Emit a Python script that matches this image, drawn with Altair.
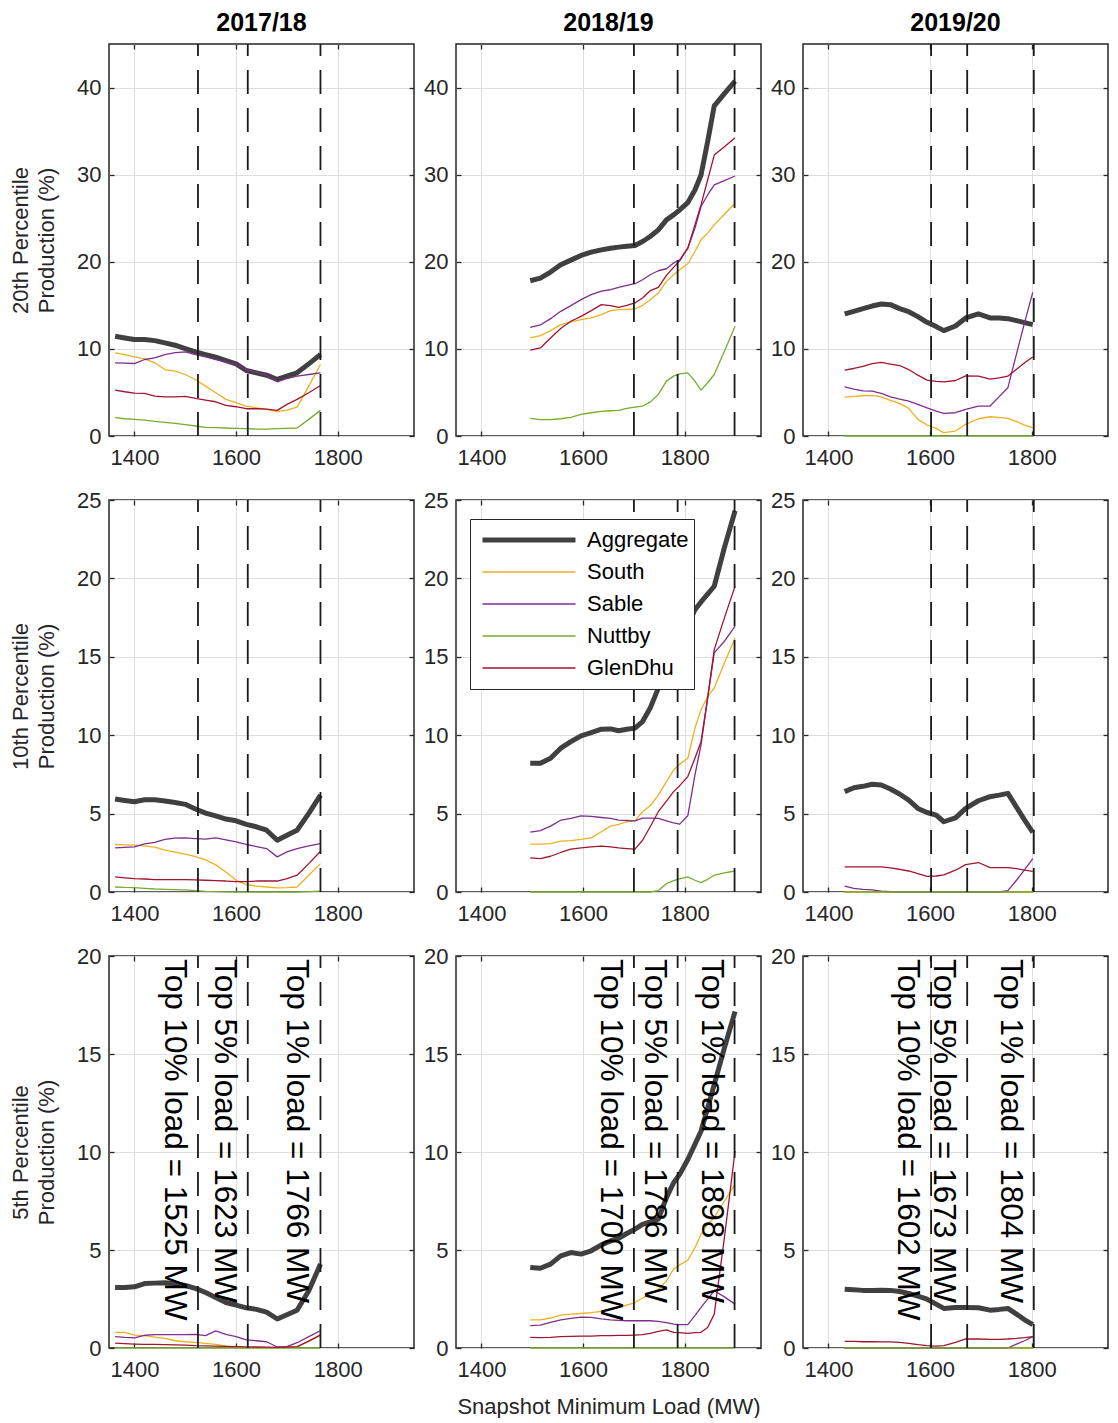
import altair as alt
import pandas as pd

FONT = "Liberation Sans"
DARK = "#262626"

YEARS = ["2017/18", "2018/19", "2019/20"]
PCTS = ["20th", "10th", "5th"]
SERIES = ["Aggregate", "South", "Sable", "Nuttby", "GlenDhu"]
COLORS = ["#404040", "#EDB120", "#7E2F8E", "#77AC30", "#A2142F"]
WIDTHS = [5, 1.3, 1.3, 1.3, 1.3]

Y_MAX = [45, 25, 20]
Y_TICKS = [[0, 10, 20, 30, 40], [0, 5, 10, 15, 20, 25], [0, 5, 10, 15, 20]]
X_TICKS = [1400, 1600, 1800]
X_DOMAIN = [1350, 1950]

# threshold loads (MW) per year: top 10%, top 5%, top 1%
THR_1718 = [1525, 1623, 1766]
THR_1819 = [1700, 1786, 1898]
THR_1920 = [1602, 1673, 1804]
THR_PCT = [10, 5, 1]

# ---------------- 2017/18 ----------------
X_1718 = [1362, 1381, 1400, 1420, 1440, 1460, 1480, 1500, 1520, 1540, 1560,
          1580, 1600, 1620, 1640, 1660, 1681, 1700, 1720, 1743, 1766]
AGG_20_1718 = [11.45, 11.26, 11.07, 11.07, 10.95, 10.69, 10.42, 10.04, 9.66, 9.35, 9.05,
               8.66, 8.28, 7.52, 7.25, 6.98, 6.49, 6.87, 7.25, 8.28, 9.35]
SOU_20_1718 = [9.54, 9.35, 9.08, 8.85, 8.40, 7.63, 7.44, 7.06, 6.49, 5.73, 4.96,
               4.20, 3.82, 3.44, 3.24, 3.05, 2.79, 2.98, 3.32, 5.73, 8.21]
SAB_20_1718 = [8.40, 8.36, 8.32, 8.78, 8.97, 9.35, 9.58, 9.66, 9.35, 9.08, 8.78,
               8.51, 8.21, 7.60, 7.29, 6.98, 6.22, 6.60, 6.87, 7.06, 7.25]
NUT_20_1718 = [2.10, 1.98, 1.91, 1.83, 1.68, 1.57, 1.45, 1.30, 1.15, 0.99, 0.95,
               0.92, 0.88, 0.84, 0.80, 0.80, 0.84, 0.88, 0.92, 1.91, 2.94]
GLE_20_1718 = [5.27, 5.08, 4.92, 4.89, 4.58, 4.50, 4.50, 4.54, 4.31, 4.12, 3.93,
               3.51, 3.36, 3.13, 3.13, 3.09, 2.94, 3.63, 4.20, 4.96, 5.80]

AGG_10_1718 = [5.93, 5.84, 5.76, 5.88, 5.88, 5.80, 5.71, 5.59, 5.29, 5.03, 4.86,
               4.65, 4.54, 4.31, 4.16, 3.94, 3.30, 3.62, 3.94, 5.01, 6.18]
SOU_10_1718 = [3.03, 3.01, 2.99, 2.94, 2.86, 2.67, 2.54, 2.41, 2.26, 2.05, 1.73,
               1.28, 0.75, 0.47, 0.38, 0.32, 0.26, 0.28, 0.32, 1.07, 1.81]
SAB_10_1718 = [2.81, 2.84, 2.88, 3.07, 3.16, 3.35, 3.43, 3.45, 3.41, 3.37, 3.45,
               3.33, 3.20, 3.03, 2.90, 2.77, 2.24, 2.56, 2.77, 2.94, 3.09]
NUT_10_1718 = [0.32, 0.29, 0.28, 0.23, 0.19, 0.17, 0.15, 0.13, 0.09, 0.04, 0.02,
               0.01, 0.0, 0.0, 0.0, 0.0, 0.0, 0.0, 0.0, 0.02, 0.05]
GLE_10_1718 = [0.96, 0.90, 0.85, 0.83, 0.79, 0.79, 0.79, 0.79, 0.77, 0.75, 0.72,
               0.70, 0.66, 0.66, 0.70, 0.70, 0.70, 0.85, 1.07, 1.81, 2.60]

AGG_5_1718 = [3.09, 3.09, 3.12, 3.29, 3.31, 3.33, 3.29, 3.19, 3.04, 2.83, 2.58,
              2.32, 2.19, 2.05, 1.97, 1.83, 1.48, 1.70, 1.93, 2.92, 4.28]
SOU_5_1718 = [0.80, 0.80, 0.66, 0.63, 0.56, 0.49, 0.37, 0.32, 0.29, 0.24, 0.19,
              0.10, 0.03, 0.02, 0.02, 0.02, 0.02, 0.03, 0.05, 0.35, 0.68]
SAB_5_1718 = [0.58, 0.54, 0.52, 0.65, 0.68, 0.68, 0.68, 0.68, 0.70, 0.63, 0.87,
              0.70, 0.58, 0.41, 0.37, 0.32, 0.05, 0.07, 0.27, 0.58, 0.88]
NUT_5_1718 = [0.0, 0.0, 0.0, 0.0, 0.0, 0.0, 0.0, 0.0, 0.0, 0.0, 0.0,
              0.0, 0.0, 0.0, 0.0, 0.0, 0.0, 0.0, 0.0, 0.0, 0.0]
GLE_5_1718 = [0.25, 0.22, 0.20, 0.19, 0.18, 0.17, 0.16, 0.15, 0.12, 0.11, 0.10,
              0.08, 0.07, 0.06, 0.05, 0.04, 0.03, 0.05, 0.07, 0.35, 0.66]

# ---------------- 2018/19 ----------------
X_1819 = [1496, 1516, 1536, 1556, 1576, 1596, 1616, 1636, 1654, 1670, 1686, 1702, 1717,
          1732, 1748, 1764, 1778, 1790, 1806, 1820, 1832, 1845, 1858, 1878, 1899]
AGG_20_1819 = [17.82, 18.13, 18.82, 19.66, 20.19, 20.73, 21.11, 21.37, 21.56, 21.68, 21.79, 21.87, 22.33,
               22.90, 23.66, 24.81, 25.38, 25.95, 26.79, 28.24, 29.96, 33.78, 37.90, 39.31, 40.73]
SOU_20_1819 = [11.26, 11.53, 12.10, 12.79, 13.09, 13.36, 13.55, 13.93, 14.39, 14.50, 14.54, 14.58, 15.00,
               15.65, 16.41, 17.75, 18.51, 19.08, 19.77, 21.18, 22.52, 23.28, 24.24, 25.46, 26.72]
SAB_20_1819 = [12.48, 12.75, 13.47, 14.31, 14.96, 15.65, 16.22, 16.64, 16.79, 17.06, 17.29, 17.48, 17.94,
               18.51, 18.97, 19.20, 19.85, 20.23, 21.56, 23.85, 26.34, 27.67, 28.82, 29.31, 29.85]
NUT_20_1819 = [2.02, 1.87, 1.87, 1.98, 2.14, 2.48, 2.67, 2.82, 2.90, 2.94, 3.17, 3.32, 3.44,
               3.89, 4.77, 6.30, 6.87, 7.14, 7.25, 6.30, 5.27, 6.11, 7.06, 9.73, 12.60]
GLE_20_1819 = [9.85, 10.11, 11.26, 12.33, 13.17, 13.74, 14.39, 15.08, 14.96, 14.77, 15.00, 15.27, 15.84,
               16.68, 17.06, 18.44, 19.35, 20.11, 21.56, 24.24, 26.53, 29.39, 32.25, 33.21, 34.24]

AGG_10_1819 = [8.21, 8.21, 8.53, 9.17, 9.59, 9.96, 10.17, 10.38, 10.40, 10.28, 10.38, 10.45, 10.87,
               11.73, 13.00, 14.00, 15.00, 15.90, 17.00, 18.00, 18.50, 19.00, 19.50, 21.96, 24.31]
SOU_10_1819 = [3.05, 3.05, 3.09, 3.24, 3.28, 3.35, 3.45, 3.84, 4.20, 4.31, 4.48, 4.54, 5.12,
               5.50, 6.18, 7.04, 7.78, 8.14, 8.53, 10.45, 11.62, 12.47, 13.01, 14.61, 16.20]
SAB_10_1819 = [3.82, 3.92, 4.20, 4.58, 4.69, 4.86, 4.82, 4.75, 4.69, 4.58, 4.56, 4.54, 4.71,
               4.71, 4.69, 4.54, 4.41, 4.33, 4.86, 7.46, 9.38, 12.37, 15.25, 15.99, 16.95]
NUT_10_1819 = [0.0, 0.0, 0.0, 0.0, 0.0, 0.0, 0.0, 0.0, 0.0, 0.0, 0.0, 0.0, 0.0,
               0.0, 0.09, 0.53, 0.72, 0.83, 0.96, 0.75, 0.60, 0.81, 1.07, 1.22, 1.34]
GLE_10_1819 = [2.17, 2.13, 2.28, 2.52, 2.73, 2.81, 2.88, 2.92, 2.88, 2.81, 2.77, 2.73, 3.30,
               4.16, 5.12, 5.80, 6.40, 6.78, 7.36, 8.53, 9.59, 12.37, 15.46, 17.48, 19.51]

AGG_5_1819 = [4.11, 4.07, 4.28, 4.70, 4.87, 4.79, 4.96, 5.26, 5.46, 5.60, 5.84, 6.06, 6.31,
              6.43, 6.57, 7.67, 8.43, 8.86, 9.62, 10.39, 11.06, 12.25, 13.44, 15.31, 17.17]
SOU_5_1819 = [1.44, 1.44, 1.53, 1.68, 1.73, 1.76, 1.80, 1.87, 1.97, 2.07, 2.19, 2.32, 2.55,
              2.78, 3.00, 3.43, 4.02, 4.24, 4.48, 5.12, 5.80, 6.31, 6.65, 7.50, 8.35]
SAB_5_1819 = [1.14, 1.17, 1.31, 1.43, 1.51, 1.58, 1.56, 1.49, 1.44, 1.41, 1.39, 1.39, 1.39,
              1.39, 1.36, 1.29, 1.22, 1.19, 1.19, 1.65, 2.07, 2.49, 2.92, 2.61, 2.24]
NUT_5_1819 = [0.0, 0.0, 0.0, 0.0, 0.0, 0.0, 0.0, 0.0, 0.0, 0.0, 0.0, 0.0, 0.0,
              0.0, 0.0, 0.0, 0.0, 0.0, 0.0, 0.0, 0.0, 0.0, 0.0, 0.0, 0.0]
GLE_5_1819 = [0.54, 0.53, 0.54, 0.58, 0.59, 0.61, 0.61, 0.63, 0.63, 0.64, 0.64, 0.66, 0.68,
              0.75, 0.85, 0.93, 0.80, 0.78, 0.75, 0.78, 0.80, 1.05, 1.73, 5.63, 10.05]

# ---------------- 2019/20 ----------------
X_1920 = [1432, 1450, 1468, 1486, 1504, 1522, 1540, 1558, 1576, 1594, 1612,
          1627, 1650, 1670, 1695, 1718, 1736, 1753, 1770, 1786, 1802]
AGG_20_1920 = [14.01, 14.31, 14.62, 14.92, 15.15, 15.08, 14.62, 14.27, 13.70, 13.05, 12.56,
               12.10, 12.63, 13.55, 14.01, 13.55, 13.55, 13.47, 13.24, 13.02, 12.79]
SOU_20_1920 = [4.47, 4.54, 4.62, 4.66, 4.50, 4.08, 3.74, 3.17, 1.91, 1.26, 0.88,
               0.38, 0.57, 1.34, 1.98, 2.21, 2.14, 2.02, 1.64, 1.26, 0.95]
SAB_20_1920 = [5.65, 5.38, 5.19, 5.15, 4.89, 4.50, 4.24, 4.01, 3.63, 3.24, 2.86,
               2.60, 2.67, 3.05, 3.44, 3.44, 4.52, 5.53, 9.43, 13.05, 16.49]
NUT_20_1920 = [0.0, 0.0, 0.0, 0.0, 0.0, 0.0, 0.0, 0.0, 0.0, 0.0, 0.0,
               0.0, 0.0, 0.0, 0.0, 0.0, 0.0, 0.0, 0.0, 0.0, 0.0]
GLE_20_1920 = [7.56, 7.75, 7.98, 8.32, 8.44, 8.24, 8.09, 7.63, 6.98, 6.41, 6.26,
               6.22, 6.37, 6.91, 6.87, 6.53, 6.68, 6.87, 7.65, 8.40, 9.08]

AGG_10_1920 = [6.40, 6.65, 6.74, 6.87, 6.82, 6.57, 6.25, 5.86, 5.33, 5.07, 4.90,
               4.48, 4.73, 5.33, 5.82, 6.08, 6.18, 6.29, 5.41, 4.58, 3.80]
SOU_10_1920 = [0.0, 0.0, 0.0, 0.0, 0.0, 0.0, 0.0, 0.0, 0.0, 0.0, 0.0,
               0.0, 0.0, 0.0, 0.0, 0.0, 0.0, 0.0, 0.0, 0.0, 0.0]
SAB_10_1920 = [0.38, 0.23, 0.17, 0.13, 0.06, 0.02, 0.0, 0.0, 0.0, 0.0, 0.0,
               0.0, 0.0, 0.0, 0.0, 0.0, 0.0, 0.09, 0.75, 1.43, 2.13]
NUT_10_1920 = [0.0, 0.0, 0.0, 0.0, 0.0, 0.0, 0.0, 0.0, 0.0, 0.0, 0.0,
               0.0, 0.0, 0.0, 0.0, 0.0, 0.0, 0.0, 0.0, 0.0, 0.0]
GLE_10_1920 = [1.60, 1.60, 1.60, 1.60, 1.60, 1.54, 1.45, 1.34, 1.17, 1.00, 1.02,
               1.09, 1.39, 1.75, 1.88, 1.56, 1.56, 1.56, 1.49, 1.39, 1.32]

AGG_5_1920 = [3.00, 2.97, 2.94, 2.94, 2.95, 2.94, 2.88, 2.78, 2.65, 2.49, 2.24,
              2.02, 2.07, 2.07, 2.05, 1.93, 1.97, 2.02, 1.73, 1.44, 1.19]
SOU_5_1920 = [0.0, 0.0, 0.0, 0.0, 0.0, 0.0, 0.0, 0.0, 0.0, 0.0, 0.0,
              0.0, 0.0, 0.0, 0.0, 0.0, 0.0, 0.0, 0.0, 0.0, 0.0]
SAB_5_1920 = [0.0, 0.0, 0.0, 0.0, 0.0, 0.0, 0.0, 0.0, 0.0, 0.0, 0.0,
              0.0, 0.0, 0.0, 0.0, 0.0, 0.0, 0.0, 0.20, 0.37, 0.58]
NUT_5_1920 = [0.0, 0.0, 0.0, 0.0, 0.0, 0.0, 0.0, 0.0, 0.0, 0.0, 0.0,
              0.0, 0.0, 0.0, 0.0, 0.0, 0.0, 0.0, 0.0, 0.0, 0.0]
GLE_5_1920 = [0.34, 0.34, 0.32, 0.32, 0.31, 0.31, 0.29, 0.24, 0.17, 0.12, 0.10,
              0.12, 0.29, 0.46, 0.46, 0.44, 0.44, 0.46, 0.49, 0.53, 0.58]

X_BY_YEAR = [X_1718, X_1819, X_1920]
THR_BY_YEAR = [THR_1718, THR_1819, THR_1920]
DATA = [
    [[AGG_20_1718, SOU_20_1718, SAB_20_1718, NUT_20_1718, GLE_20_1718],
     [AGG_20_1819, SOU_20_1819, SAB_20_1819, NUT_20_1819, GLE_20_1819],
     [AGG_20_1920, SOU_20_1920, SAB_20_1920, NUT_20_1920, GLE_20_1920]],
    [[AGG_10_1718, SOU_10_1718, SAB_10_1718, NUT_10_1718, GLE_10_1718],
     [AGG_10_1819, SOU_10_1819, SAB_10_1819, NUT_10_1819, GLE_10_1819],
     [AGG_10_1920, SOU_10_1920, SAB_10_1920, NUT_10_1920, GLE_10_1920]],
    [[AGG_5_1718, SOU_5_1718, SAB_5_1718, NUT_5_1718, GLE_5_1718],
     [AGG_5_1819, SOU_5_1819, SAB_5_1819, NUT_5_1819, GLE_5_1819],
     [AGG_5_1920, SOU_5_1920, SAB_5_1920, NUT_5_1920, GLE_5_1920]],
]

PANEL_W = 305
PANEL_H = 392


def make_df(xs, series_lists):
    rows = []
    for name, vals in zip(SERIES, series_lists):
        for xv, yv in zip(xs, vals):
            rows.append({"series": name, "load": xv, "value": yv})
    return pd.DataFrame(rows)


def panel(ri, ci):
    df = make_df(X_BY_YEAR[ci], DATA[ri][ci])
    thr = THR_BY_YEAR[ci]
    thr_df = pd.DataFrame({
        "load": thr,
        "label": [f"Top {p}% load = {v} MW" for p, v in zip(THR_PCT, thr)],
    })
    xs = alt.Scale(domain=X_DOMAIN, nice=False, zero=False)
    ys = alt.Scale(domain=[0, Y_MAX[ri]], nice=False)
    center = (ri == 1 and ci == 1)

    if center:
        leg = alt.Legend(orient="none", legendX=14, legendY=19, direction="vertical",
                         title=None, symbolType="stroke", symbolSize=8649,
                         clipHeight=32, symbolOffset=5, labelOffset=9,
                         labelFontSize=22, labelFont=FONT, labelColor="black",
                         padding=5, rowPadding=0, strokeColor=DARK, fillColor="white")
    else:
        leg = None
    color = alt.Color("series:N", scale=alt.Scale(domain=SERIES, range=COLORS), legend=leg)
    sw = alt.StrokeWidth("series:N",
                         scale=alt.Scale(type="ordinal", domain=SERIES, range=WIDTHS),
                         legend=leg)

    bottom_kw = dict(orient="bottom", values=X_TICKS, grid=True, domain=False,
                     offset=-5, tickSize=5, labelPadding=11, format="d")
    if ri == 2 and ci == 1:
        bottom_kw.update(title="Snapshot Minimum Load (MW)", titlePadding=16)
    else:
        bottom_kw.update(title=None)
    left_kw = dict(orient="left", values=Y_TICKS[ri], grid=True, domain=False,
                   offset=-5, tickSize=5, labelPadding=8, format="d")
    if ci == 0:
        left_kw.update(title=[f"{PCTS[ri]} Percentile", "Production (%)"],
                       titleLineHeight=26, titlePadding=18)
    else:
        left_kw.update(title=None)
    top_axis = alt.Axis(orient="top", values=X_TICKS, grid=False, domain=False,
                        labels=False, offset=-5, tickSize=5, title=None)
    right_axis = alt.Axis(orient="right", values=Y_TICKS[ri], grid=False, domain=False,
                          labels=False, offset=-5, tickSize=5, title=None)

    layers = []
    for si, name in enumerate(SERIES):
        if si == 0:
            xax, yax = alt.Axis(**bottom_kw), alt.Axis(**left_kw)
        elif si == 1:
            xax, yax = top_axis, right_axis
        else:
            xax, yax = None, None
        layers.append(
            alt.Chart(df)
            .transform_filter(alt.datum.series == name)
            .mark_line(strokeJoin="round", strokeCap="butt")
            .encode(
                x=alt.X("load:Q", scale=xs, axis=xax),
                y=alt.Y("value:Q", scale=ys, axis=yax),
                color=color,
                strokeWidth=sw,
            )
        )
    layers.append(
        alt.Chart(thr_df)
        .mark_rule(color="#1a1a1a", strokeWidth=1.8, strokeDash=[24, 14], strokeDashOffset=12)
        .encode(x=alt.X("load:Q", scale=xs, axis=None))
    )
    if ri == 2:
        layers.append(
            alt.Chart(thr_df)
            .mark_text(angle=90, align="left", baseline="top", dx=3, dy=8,
                       fontSize=31.5, font=FONT, color="black")
            .encode(x=alt.X("load:Q", scale=xs, axis=None), y=alt.value(0), text="label:N")
        )
    props = dict(width=PANEL_W, height=PANEL_H)
    if ri == 0:
        props["title"] = alt.Title(YEARS[ci])
    return alt.layer(*layers).resolve_axis(x="independent", y="independent").properties(**props)


panels = [panel(ri, ci) for ri in range(3) for ci in range(3)]

chart = (
    alt.concat(*panels, columns=3, spacing={"row": 64, "column": 42}, bounds="flush")
    .resolve_scale(color="independent", strokeWidth="independent")
    .properties(padding={"left": 0, "top": 2, "right": 0, "bottom": 0})
    .configure(font=FONT)
    .configure_view(stroke=DARK, strokeWidth=1.5)
    .configure_axis(labelFont=FONT, labelFontSize=22, labelColor=DARK,
                    tickColor=DARK, tickWidth=1.3, gridColor="#dedede", gridWidth=1,
                    titleFont=FONT, titleFontSize=22, titleFontWeight="normal",
                    titleColor=DARK)
    .configure_title(font=FONT, fontSize=25, fontWeight="bold", color="black", offset=7)
)

chart.save("out.html", embed_options={"renderer": "svg", "actions": False})
